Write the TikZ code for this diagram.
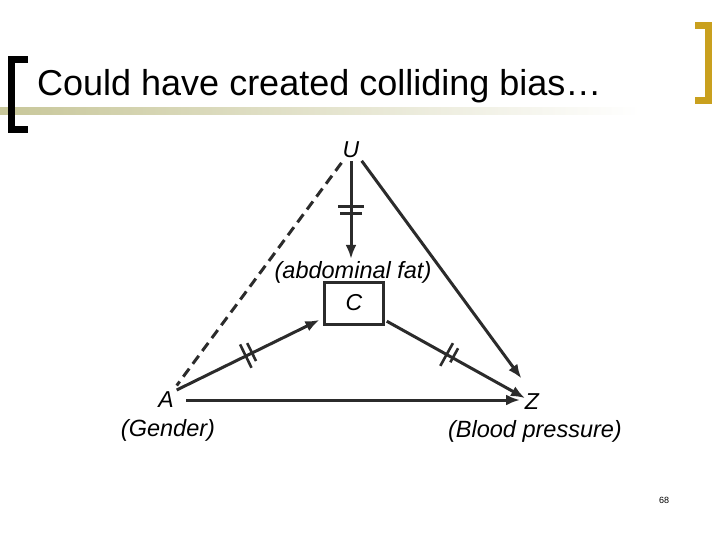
\documentclass[tikz,border=0pt]{standalone}
\usepackage{fontspec}
\setmainfont{Liberation Sans}
\usetikzlibrary{arrows.meta,positioning,decorations.markings}
\definecolor{inkgrey}{HTML}{2B2B2B}
\definecolor{bargold}{HTML}{C9A01E}
\definecolor{bandkhaki}{HTML}{C8C79A}

\begin{document}
\begin{tikzpicture}[x=1pt, y=-1pt, >={Latex[length=14pt,width=11pt]},
  var/.style={font=\fontsize{23}{26}\selectfont\itshape, inner sep=1pt},
  lbl/.style={font=\fontsize{23.5}{26}\selectfont\itshape, inner sep=0pt},
  arr/.style={->, draw=inkgrey, line width=3pt},
  cutmark/.style={postaction={decorate, decoration={markings,
      mark=at position #1 with {\draw[-, inkgrey, line width=2.6pt] (-3.5,-13) -- (-3.5,13) (3.5,-13) -- (3.5,13);}}}}]
  \useasboundingbox (0,0) rectangle (720,540);

  % title bar
  \shade[left color=bandkhaki, right color=white] (0,108) rectangle (640,115);
  \draw[line width=7pt, miter limit=10] (28,60) -- (11.5,60) -- (11.5,129.5) -- (28,129.5);
  \draw[bargold, line width=7pt] (695,25.5) -- (708.5,25.5) -- (708.5,100.5) -- (695,100.5);
  \node[anchor=base west, inner sep=0pt, font=\fontsize{36}{40}\selectfont] (title) at (37,96) {Could have created colliding bias…};

  % variables
  \node[var] (U) at (351,150) {U};
  \node[lbl] (fat) at (353,272) {(abdominal fat)};
  \node[var, draw=inkgrey, line width=3pt, minimum width=59pt, minimum height=42pt] (C) at (354,303) {C};
  \node[var] (A) at (166,400) {A};
  \node[lbl] (gender) at (168,430) {(Gender)};
  \node[var] (Z) at (532,402) {Z};
  \node[lbl] (bp) at (535,431) {(Blood pressure)};

  % edges
  \draw[inkgrey, line width=3pt, dash pattern=on 10pt off 6pt, shorten <=16pt, shorten >=18pt] (U.center) -- (A.center);
  \draw[arr, cutmark=0.5, shorten <=2pt, shorten >=2pt] (U) -- (U |- fat.north);
  \draw[arr, cutmark=0.5, shorten <=2pt, shorten >=4pt] (A.north east) -- (C);
  \draw[arr, cutmark=0.44, shorten <=2pt, shorten >=8pt] (C) -- (Z.center);
  \draw[arr, shorten <=2pt, shorten >=18pt] (U.south east) -- (Z.north);
  \draw[arr, shorten <=20pt, shorten >=12pt] (A.center) -- (Z.center |- A.center);

  \node[font=\fontsize{9}{10}\selectfont] (page) at (664,500) {68};
\end{tikzpicture}
\end{document}
